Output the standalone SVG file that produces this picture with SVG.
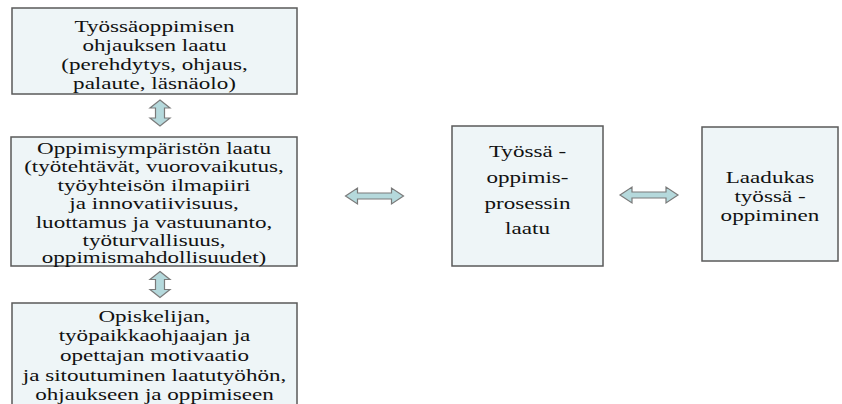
<svg xmlns="http://www.w3.org/2000/svg" width="842" height="404" viewBox="0 0 842 404">
<style>
.box{fill:#eef5f7;stroke:#5a5a5a;stroke-width:1.5}
.t{font-family:'Liberation Serif','DejaVu Serif','Times New Roman',serif;font-size:16.5px;fill:#111;text-anchor:middle}
.arr{fill:#b5d9dc;stroke:#7a7a7a;stroke-width:1.2}
</style>
<defs>
<path id="harr" d="M-29,0 L-17,-8 L-17,-3 L17,-3 L17,-8 L29,0 L17,8 L17,3 L-17,3 L-17,8 Z"/>
<path id="varr" d="M0,-13 L10,-5 L4.5,-5 L4.5,5 L10,5 L0,13 L-10,5 L-4.5,5 L-4.5,-5 L-10,-5 Z"/>
</defs>
<rect width="842" height="404" fill="#ffffff"/>
<g id="n1">
<rect class="box" x="12" y="8" width="285" height="86"/>
<g transform="translate(154.5,0) scale(1.4,1)">
<text class="t" x="0" y="32">Työssäoppimisen</text>
<text class="t" x="0" y="51">ohjauksen laatu</text>
<text class="t" x="0" y="70">(perehdytys, ohjaus,</text>
<text class="t" x="0" y="89">palaute, läsnäolo)</text>
</g>
</g>
<g id="n2">
<rect class="box" x="11" y="137" width="286" height="129"/>
<g transform="translate(154,0) scale(1.4,1)">
<text class="t" x="0" y="154">Oppimisympäristön laatu</text>
<text class="t" x="0" y="172.5">(työtehtävät, vuorovaikutus,</text>
<text class="t" x="0" y="191">työyhteisön ilmapiiri</text>
<text class="t" x="0" y="209.5">ja innovatiivisuus,</text>
<text class="t" x="0" y="228">luottamus ja vastuunanto,</text>
<text class="t" x="0" y="246.5">työturvallisuus,</text>
<text class="t" x="0" y="263">oppimismahdollisuudet)</text>
</g>
</g>
<g id="n3">
<rect class="box" x="12" y="303" width="285" height="110"/>
<g transform="translate(154.5,0) scale(1.4,1)">
<text class="t" x="0" y="322">Opiskelijan,</text>
<text class="t" x="0" y="341">työpaikkaohjaajan ja</text>
<text class="t" x="0" y="361">opettajan motivaatio</text>
<text class="t" x="0" y="381">ja sitoutuminen laatutyöhön,</text>
<text class="t" x="0" y="400">ohjaukseen ja oppimiseen</text>
</g>
</g>
<g id="n4">
<rect class="box" x="452" y="126" width="151" height="140"/>
<g transform="translate(527.5,0) scale(1.4,1)">
<text class="t" x="0" y="157">Työssä -</text>
<text class="t" x="0" y="183">oppimis-</text>
<text class="t" x="0" y="209">prosessin</text>
<text class="t" x="0" y="234">laatu</text>
</g>
</g>
<g id="n5">
<rect class="box" x="702" y="127" width="136" height="134"/>
<g transform="translate(770,0) scale(1.4,1)">
<text class="t" x="0" y="183">Laadukas</text>
<text class="t" x="0" y="202">työssä -</text>
<text class="t" x="0" y="221">oppiminen</text>
</g>
</g>
<g id="connectors">
<use href="#varr" class="arr" transform="translate(160,113)"/>
<use href="#varr" class="arr" transform="translate(160,284.5)"/>
<use href="#harr" class="arr" transform="translate(374.5,196)"/>
<use href="#harr" class="arr" transform="translate(649,195)"/>
</g>
</svg>
